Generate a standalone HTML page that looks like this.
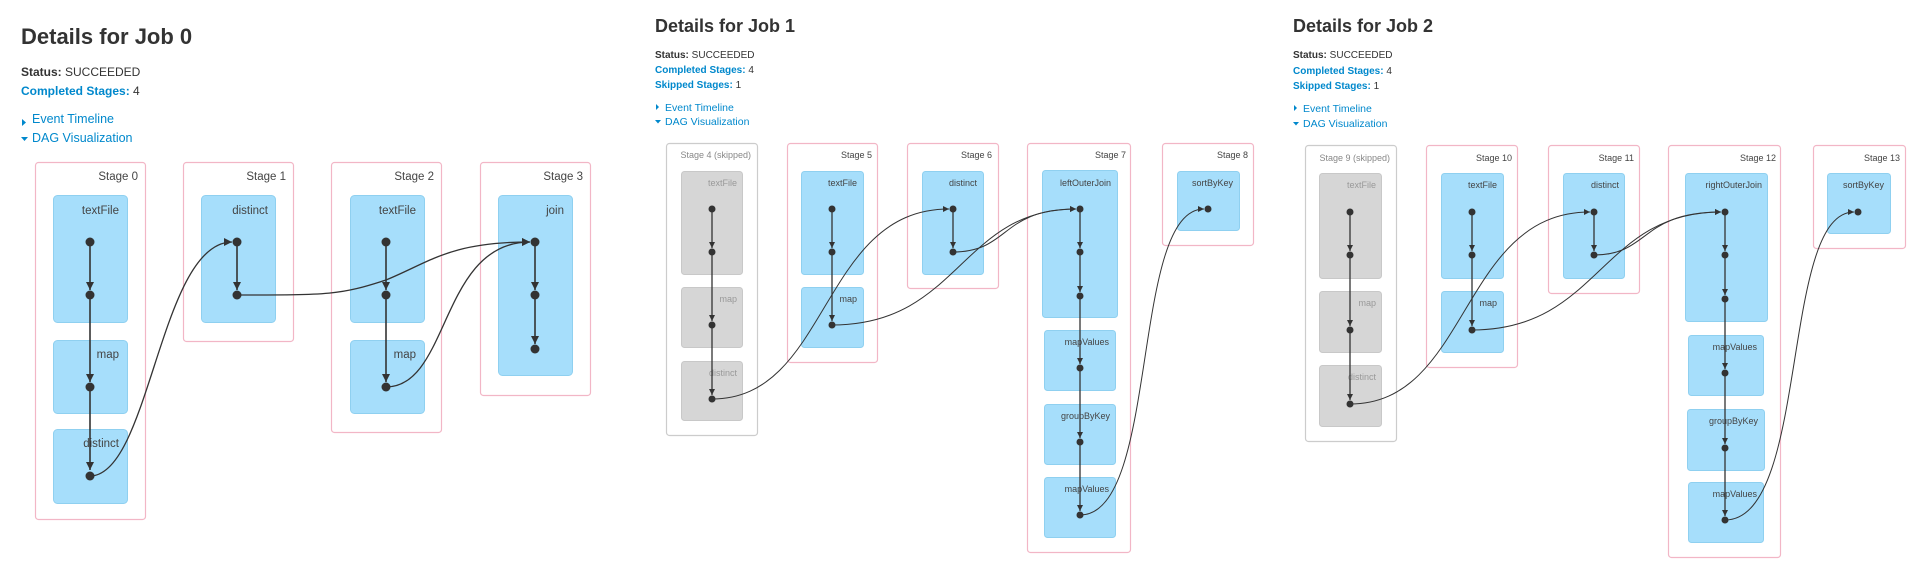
<!DOCTYPE html>
<html><head><meta charset="utf-8"><style>
html,body{margin:0;padding:0;background:#fff;width:1920px;height:580px;overflow:hidden;font-family:"Liberation Sans",Arial,sans-serif;}
svg{position:absolute;left:0;top:0}
</style></head><body>
<svg width="1920" height="580" viewBox="0 0 1920 580" xmlns="http://www.w3.org/2000/svg" font-family="Liberation Sans, Arial, sans-serif">
<defs>
<marker id="a0" markerUnits="userSpaceOnUse" markerWidth="10" markerHeight="10" refX="8" refY="4" orient="auto"><path d="M0,0 L8,4 L0,8 z" fill="#333"/></marker>
<marker id="a1" markerUnits="userSpaceOnUse" markerWidth="8" markerHeight="8" refX="6" refY="3" orient="auto"><path d="M0,0 L6,3 L0,6 z" fill="#333"/></marker>
</defs>

<!-- ===== JOB 0 header ===== -->
<text x="21" y="44" font-size="22" font-weight="bold" fill="#333">Details for Job 0</text>
<text x="21" y="76" font-size="12" fill="#333"><tspan font-weight="bold">Status:</tspan> SUCCEEDED</text>
<text x="21" y="95" font-size="12" fill="#333"><tspan font-weight="bold" fill="#0088cc">Completed Stages:</tspan> 4</text>
<path d="M22,119 L26,122.5 L22,126 z" fill="#0088cc"/>
<text x="32" y="123" font-size="12.5" fill="#0088cc">Event Timeline</text>
<path d="M21,137 L28,137 L24.5,141 z" fill="#0088cc"/>
<text x="32" y="142" font-size="12.5" fill="#0088cc">DAG Visualization</text>

<g stroke="#f2b6c6" stroke-width="1.2" fill="#fff">
<rect x="35.5" y="162.5" width="110" height="357" rx="3"/>
<rect x="183.5" y="162.5" width="110" height="179" rx="3"/>
<rect x="331.5" y="162.5" width="110" height="270" rx="3"/>
<rect x="480.5" y="162.5" width="110" height="233" rx="3"/>
</g>
<g fill="#a6defb" stroke="#8fd0f0" stroke-width="1">
<rect x="53.5" y="195.5" width="74" height="127" rx="4"/>
<rect x="53.5" y="340.5" width="74" height="73" rx="4"/>
<rect x="53.5" y="429.5" width="74" height="74" rx="4"/>
<rect x="201.5" y="195.5" width="74" height="127" rx="4"/>
<rect x="350.5" y="195.5" width="74" height="127" rx="4"/>
<rect x="350.5" y="340.5" width="74" height="73" rx="4"/>
<rect x="498.5" y="195.5" width="74" height="180" rx="4"/>
</g>
<g font-size="11.5" fill="#444" text-anchor="end">
<text x="138" y="180">Stage 0</text><text x="286" y="180">Stage 1</text>
<text x="434" y="180">Stage 2</text><text x="583" y="180">Stage 3</text>
<text x="119" y="214">textFile</text><text x="119" y="358">map</text><text x="119" y="447">distinct</text>
<text x="268" y="214">distinct</text>
<text x="416" y="214">textFile</text><text x="416" y="358">map</text>
<text x="564" y="214">join</text>
</g>
<g stroke="#333" stroke-width="1.6" fill="none" marker-end="url(#a0)">
<path d="M90,242 L90,290"/><path d="M90,295 L90,382"/><path d="M90,387 L90,470"/>
<path d="M237,242 L237,290"/>
<path d="M386,242 L386,290"/><path d="M386,295 L386,382"/>
<path d="M535,242 L535,290"/><path d="M535,295 L535,344"/>
</g>
<g stroke="#333" stroke-width="1.3" fill="none" marker-end="url(#a0)">
<path d="M90,476 C150,476 160,242 232,242"/>
<path d="M237,295 C330,295 340,295 386,280 C430,262 450,242 530,242"/>
<path d="M386,387 C450,387 440,242 530,242"/>
</g>
<g fill="#333">
<circle cx="90" cy="242" r="4.5"/><circle cx="90" cy="295" r="4.5"/><circle cx="90" cy="387" r="4.5"/><circle cx="90" cy="476" r="4.5"/>
<circle cx="237" cy="242" r="4.5"/><circle cx="237" cy="295" r="4.5"/>
<circle cx="386" cy="242" r="4.5"/><circle cx="386" cy="295" r="4.5"/><circle cx="386" cy="387" r="4.5"/>
<circle cx="535" cy="242" r="4.5"/><circle cx="535" cy="295" r="4.5"/><circle cx="535" cy="349" r="4.5"/>
</g>

<!-- ===== JOB 1 header ===== -->
<text x="655" y="32" font-size="18" font-weight="bold" fill="#333">Details for Job 1</text>
<text x="655" y="58" font-size="10" fill="#333"><tspan font-weight="bold">Status:</tspan> SUCCEEDED</text>
<text x="655" y="73" font-size="10" fill="#333"><tspan font-weight="bold" fill="#0088cc">Completed Stages:</tspan> 4</text>
<text x="655" y="88" font-size="10" fill="#333"><tspan font-weight="bold" fill="#0088cc">Skipped Stages:</tspan> 1</text>
<path d="M656,104 L659,107 L656,110 z" fill="#0088cc"/>
<text x="665" y="111" font-size="10.5" fill="#0088cc">Event Timeline</text>
<path d="M655,120 L661,120 L658,123.5 z" fill="#0088cc"/>
<text x="665" y="125" font-size="10.5" fill="#0088cc">DAG Visualization</text>

<rect x="666.5" y="143.5" width="91" height="292" rx="3" fill="#fff" stroke="#ccc" stroke-width="1.2"/>
<g stroke="#f2b6c6" stroke-width="1.2" fill="#fff">
<rect x="787.5" y="143.5" width="90" height="219" rx="3"/>
<rect x="907.5" y="143.5" width="91" height="145" rx="3"/>
<rect x="1027.5" y="143.5" width="103" height="409" rx="3"/>
<rect x="1162.5" y="143.5" width="91" height="102" rx="3"/>
</g>
<g fill="#d6d6d6" stroke="#c8c8c8">
<rect x="681.5" y="171.5" width="61" height="103" rx="3"/>
<rect x="681.5" y="287.5" width="61" height="60" rx="3"/>
<rect x="681.5" y="361.5" width="61" height="59" rx="3"/>
</g>
<g fill="#a6defb" stroke="#8fd0f0">
<rect x="801.5" y="171.5" width="62" height="103" rx="3"/>
<rect x="801.5" y="287.5" width="62" height="60" rx="3"/>
<rect x="922.5" y="171.5" width="61" height="103" rx="3"/>
<rect x="1042.5" y="170.5" width="75" height="147" rx="3"/>
<rect x="1044.5" y="330.5" width="71" height="60" rx="3"/>
<rect x="1044.5" y="404.5" width="71" height="60" rx="3"/>
<rect x="1044.5" y="477.5" width="71" height="60" rx="3"/>
<rect x="1177.5" y="171.5" width="62" height="59" rx="3"/>
</g>
<g font-size="9" fill="#444" text-anchor="end">
<text x="751" y="158" fill="#888">Stage 4 (skipped)</text>
<text x="872" y="158">Stage 5</text><text x="992" y="158">Stage 6</text>
<text x="1126" y="158">Stage 7</text><text x="1248" y="158">Stage 8</text>
<text x="737" y="186" fill="#999">textFile</text><text x="737" y="302" fill="#999">map</text><text x="737" y="376" fill="#999">distinct</text>
<text x="857" y="186">textFile</text><text x="857" y="302">map</text>
<text x="977" y="186">distinct</text>
<text x="1111" y="186">leftOuterJoin</text>
<text x="1109" y="345">mapValues</text><text x="1110" y="419">groupByKey</text><text x="1109" y="492">mapValues</text>
<text x="1233" y="186">sortByKey</text>
</g>
<g stroke="#333" stroke-width="1.3" fill="none" marker-end="url(#a1)">
<path d="M712,209 L712,248"/><path d="M712,252 L712,321"/><path d="M712,325 L712,395"/>
<path d="M832,209 L832,248"/><path d="M832,252 L832,321"/>
<path d="M953,209 L953,248"/>
<path d="M1080,209 L1080,248"/><path d="M1080,252 L1080,292"/><path d="M1080,296 L1080,364"/><path d="M1080,368 L1080,438"/><path d="M1080,442 L1080,511"/>
</g>
<g stroke="#333" stroke-width="1" fill="none" marker-end="url(#a1)">
<path d="M712,399 C830,399 820,209 949,209"/>
<path d="M832,325 C960,325 960,209 1076,209"/>
<path d="M953,252 C1010,252 1000,209 1076,209"/>
<path d="M1080,515 C1160,515 1130,209 1204,209"/>
</g>
<g fill="#333">
<circle cx="712" cy="209" r="3.5"/><circle cx="712" cy="252" r="3.5"/><circle cx="712" cy="325" r="3.5"/><circle cx="712" cy="399" r="3.5"/>
<circle cx="832" cy="209" r="3.5"/><circle cx="832" cy="252" r="3.5"/><circle cx="832" cy="325" r="3.5"/>
<circle cx="953" cy="209" r="3.5"/><circle cx="953" cy="252" r="3.5"/>
<circle cx="1080" cy="209" r="3.5"/><circle cx="1080" cy="252" r="3.5"/><circle cx="1080" cy="296" r="3.5"/><circle cx="1080" cy="368" r="3.5"/><circle cx="1080" cy="442" r="3.5"/><circle cx="1080" cy="515" r="3.5"/>
<circle cx="1208" cy="209" r="3.5"/>
</g>

<!-- ===== JOB 2 header ===== -->
<text x="1293" y="32" font-size="18" font-weight="bold" fill="#333">Details for Job 2</text>
<text x="1293" y="58" font-size="10" fill="#333"><tspan font-weight="bold">Status:</tspan> SUCCEEDED</text>
<text x="1293" y="74" font-size="10" fill="#333"><tspan font-weight="bold" fill="#0088cc">Completed Stages:</tspan> 4</text>
<text x="1293" y="89" font-size="10" fill="#333"><tspan font-weight="bold" fill="#0088cc">Skipped Stages:</tspan> 1</text>
<path d="M1294,105 L1297,108 L1294,111 z" fill="#0088cc"/>
<text x="1303" y="112" font-size="10.5" fill="#0088cc">Event Timeline</text>
<path d="M1293,122 L1299,122 L1296,125.5 z" fill="#0088cc"/>
<text x="1303" y="127" font-size="10.5" fill="#0088cc">DAG Visualization</text>

<rect x="1305.5" y="145.5" width="91" height="296" rx="3" fill="#fff" stroke="#ccc" stroke-width="1.2"/>
<g stroke="#f2b6c6" stroke-width="1.2" fill="#fff">
<rect x="1426.5" y="145.5" width="91" height="222" rx="3"/>
<rect x="1548.5" y="145.5" width="91" height="148" rx="3"/>
<rect x="1668.5" y="145.5" width="112" height="412" rx="3"/>
<rect x="1813.5" y="145.5" width="92" height="103" rx="3"/>
</g>
<g fill="#d6d6d6" stroke="#c8c8c8">
<rect x="1319.5" y="173.5" width="62" height="105" rx="3"/>
<rect x="1319.5" y="291.5" width="62" height="61" rx="3"/>
<rect x="1319.5" y="365.5" width="62" height="61" rx="3"/>
</g>
<g fill="#a6defb" stroke="#8fd0f0">
<rect x="1441.5" y="173.5" width="62" height="105" rx="3"/>
<rect x="1441.5" y="291.5" width="62" height="61" rx="3"/>
<rect x="1563.5" y="173.5" width="61" height="105" rx="3"/>
<rect x="1685.5" y="173.5" width="82" height="148" rx="3"/>
<rect x="1688.5" y="335.5" width="75" height="60" rx="3"/>
<rect x="1687.5" y="409.5" width="77" height="61" rx="3"/>
<rect x="1688.5" y="482.5" width="75" height="60" rx="3"/>
<rect x="1827.5" y="173.5" width="63" height="60" rx="3"/>
</g>
<g font-size="9" fill="#444" text-anchor="end">
<text x="1390" y="161" fill="#888">Stage 9 (skipped)</text>
<text x="1512" y="161">Stage 10</text><text x="1634" y="161">Stage 11</text>
<text x="1776" y="161">Stage 12</text><text x="1900" y="161">Stage 13</text>
<text x="1376" y="188" fill="#999">textFile</text><text x="1376" y="306" fill="#999">map</text><text x="1376" y="380" fill="#999">distinct</text>
<text x="1497" y="188">textFile</text><text x="1497" y="306">map</text>
<text x="1619" y="188">distinct</text>
<text x="1762" y="188">rightOuterJoin</text>
<text x="1757" y="350">mapValues</text><text x="1758" y="424">groupByKey</text><text x="1757" y="497">mapValues</text>
<text x="1884" y="188">sortByKey</text>
</g>
<g stroke="#333" stroke-width="1.3" fill="none" marker-end="url(#a1)">
<path d="M1350,212 L1350,251"/><path d="M1350,255 L1350,326"/><path d="M1350,330 L1350,400"/>
<path d="M1472,212 L1472,251"/><path d="M1472,255 L1472,326"/>
<path d="M1594,212 L1594,251"/>
<path d="M1725,212 L1725,251"/><path d="M1725,255 L1725,295"/><path d="M1725,299 L1725,369"/><path d="M1725,373 L1725,444"/><path d="M1725,448 L1725,516"/>
</g>
<g stroke="#333" stroke-width="1" fill="none" marker-end="url(#a1)">
<path d="M1350,404 C1470,404 1460,212 1590,212"/>
<path d="M1472,330 C1600,330 1600,212 1721,212"/>
<path d="M1594,255 C1650,255 1640,212 1721,212"/>
<path d="M1725,520 C1810,520 1780,212 1854,212"/>
</g>
<g fill="#333">
<circle cx="1350" cy="212" r="3.5"/><circle cx="1350" cy="255" r="3.5"/><circle cx="1350" cy="330" r="3.5"/><circle cx="1350" cy="404" r="3.5"/>
<circle cx="1472" cy="212" r="3.5"/><circle cx="1472" cy="255" r="3.5"/><circle cx="1472" cy="330" r="3.5"/>
<circle cx="1594" cy="212" r="3.5"/><circle cx="1594" cy="255" r="3.5"/>
<circle cx="1725" cy="212" r="3.5"/><circle cx="1725" cy="255" r="3.5"/><circle cx="1725" cy="299" r="3.5"/><circle cx="1725" cy="373" r="3.5"/><circle cx="1725" cy="448" r="3.5"/><circle cx="1725" cy="520" r="3.5"/>
<circle cx="1858" cy="212" r="3.5"/>
</g>
</svg>
</body></html>
